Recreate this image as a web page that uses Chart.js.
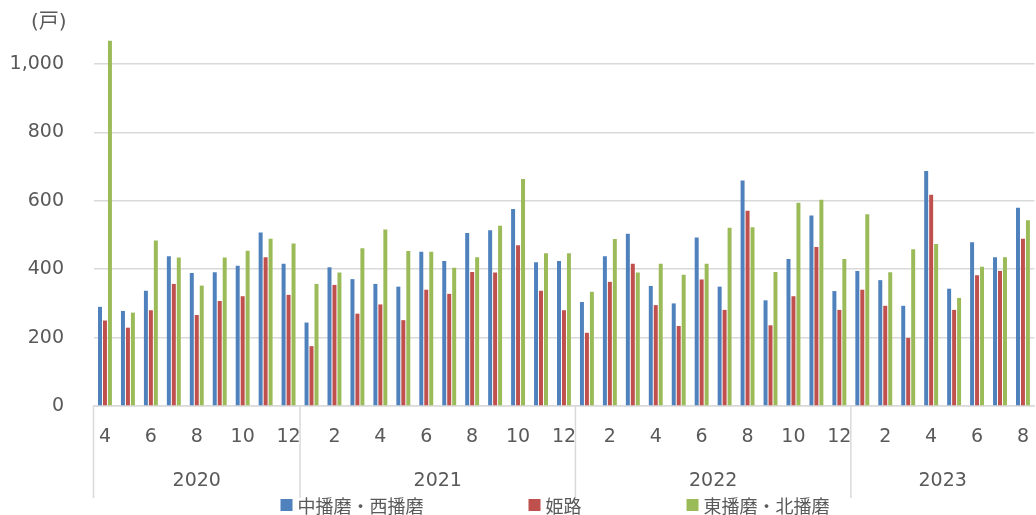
<!DOCTYPE html>
<html lang="ja">
<head>
<meta charset="utf-8">
<title>新設住宅着工戸数</title>
<script src="https://cdn.jsdelivr.net/npm/chart.js@4.4.0/dist/chart.umd.min.js"></script>
<style>
  html, body { margin: 0; padding: 0; overflow: hidden; background: #fff; }
</style>
</head>
<body>
<canvas id="myChart" width="1041" height="515"></canvas>
<script>
// months from 2020/4 to 2023/8
const months = [
    '4', '5', '6', '7', '8', '9', '10', '11', '12',
    '1', '2', '3', '4', '5', '6', '7', '8', '9', '10', '11', '12',
    '1', '2', '3', '4', '5', '6', '7', '8', '9', '10', '11', '12',
    '1', '2', '3', '4', '5', '6', '7', '8'
];
const years = ['2020', '2021', '2022', '2023'];

const seriesNames = ['中播磨・西播磨', '姫路', '東播磨・北播磨'];
const seriesColors = ['#4F81BD', '#C0504D', '#9BBB59'];

const nakaNishi = [
    290, 278, 337, 438, 389, 391, 410, 507, 416,
    244, 406, 371, 357, 349, 451, 424, 506, 514, 576, 420, 424,
    304, 438, 504, 351, 300, 493, 349, 659, 309, 430, 557, 336,
    395, 368, 293, 687, 343, 479, 435, 580
];
const himeji = [
    250, 229, 280, 357, 266, 307, 321, 435, 325,
    175, 354, 270, 297, 251, 340, 328, 392, 390, 470, 337, 280,
    214, 363, 416, 295, 234, 370, 281, 571, 236, 321, 465, 281,
    340, 293, 199, 618, 281, 382, 395, 489
];
const higashiKita = [
    1068, 273, 484, 434, 352, 434, 454, 489, 475,
    357, 390, 461, 516, 453, 451, 404, 435, 527, 664, 447, 447,
    334, 488, 390, 416, 384, 416, 521, 523, 392, 594, 603, 430,
    561, 391, 458, 474, 316, 407, 435, 543
];
const yTicks = [0, 200, 400, 600, 800, 1000];

const textColor = '#595959';
const gridColor = '#d9d9d9';
const latinFont = "'DejaVu Sans', 'Noto Sans CJK JP', sans-serif";
const cjkFont = "'Noto Sans CJK JP', 'DejaVu Sans', sans-serif";

Chart.defaults.font.family = latinFont;
Chart.defaults.color = textColor;

// year group labels, separators, legend and unit label
const axisExtras = {
    id: 'axisExtras',
    afterDraw(chart) {
        const { ctx, chartArea, scales: { x } } = chart;
        const half = (x.getPixelForValue(1) - x.getPixelForValue(0)) / 2;
        const starts = [0];
        months.forEach((m, i) => { if (i > 0 && m === '1') starts.push(i); });

        ctx.save();
        ctx.strokeStyle = gridColor;
        ctx.lineWidth = 1.5;
        starts.forEach(i => {
            const px = x.getPixelForValue(i) - half;
            ctx.beginPath();
            ctx.moveTo(px, chartArea.bottom);
            ctx.lineTo(px, 498);
            ctx.stroke();
        });

        ctx.fillStyle = textColor;
        ctx.font = '19px ' + latinFont;
        ctx.textAlign = 'center';
        ctx.textBaseline = 'middle';
        starts.forEach((s, k) => {
            const e = k + 1 < starts.length ? starts[k + 1] - 1 : months.length - 1;
            const cx = (x.getPixelForValue(s) + x.getPixelForValue(e)) / 2;
            ctx.fillText(years[k], cx, 481);
        });

        ctx.textAlign = 'left';
        ctx.font = '20px ' + latinFont;
        ctx.fillText('(戸)', 31, 23);

        // legend
        ctx.font = '18px ' + cjkFont;
        const box = 12, gap = 5, spacing = 105;
        const widths = seriesNames.map(n => box + gap + ctx.measureText(n).width);
        const total = widths.reduce((a, b) => a + b, 0) + spacing * (widths.length - 1);
        let lx = 555 - total / 2;
        const ly = 505;
        seriesNames.forEach((name, i) => {
            ctx.fillStyle = seriesColors[i];
            ctx.fillRect(lx, ly - box / 2, box, box);
            ctx.fillStyle = textColor;
            ctx.fillText(name, lx + box + gap, ly + 1);
            lx += widths[i] + spacing;
        });
        ctx.restore();
    }
};

const ctx = document.getElementById('myChart').getContext('2d');
const chart = new Chart(ctx, {
    type: 'bar',
    data: {
        labels: months,
        datasets: [nakaNishi, himeji, higashiKita].map((d, i) => ({
            label: seriesNames[i],
            data: d,
            backgroundColor: seriesColors[i],
            borderWidth: 0,
            categoryPercentage: 0.65,
            barPercentage: 0.8,
            clip: false
        }))
    },
    options: {
        responsive: false,
        animation: false,
        layout: { padding: { top: 64, right: 0, bottom: 0, left: 0 } },
        plugins: {
            legend: { display: false },
            tooltip: { enabled: false }
        },
        scales: {
            x: {
                grid: { display: false },
                border: { display: true, color: gridColor, width: 1.5 },
                ticks: {
                    autoSkip: false,
                    maxRotation: 0,
                    padding: 12,
                    font: { size: 19 },
                    callback: (val, i) => i % 2 === 0 ? months[i] : ''
                },
                afterFit: s => { s.height = 109; }
            },
            y: {
                min: 0,
                max: 1000,
                border: { display: false },
                grid: { color: gridColor, lineWidth: 1.5, drawTicks: false },
                ticks: {
                    padding: 29.5,
                    font: { size: 19 },
                    callback: v => v.toLocaleString('en-US')
                },
                afterBuildTicks: s => { s.ticks = yTicks.map(v => ({ value: v })); },
                afterFit: s => { s.width = 93.5; }
            }
        }
    },
    plugins: [axisExtras]
});
</script>
</body>
</html>
